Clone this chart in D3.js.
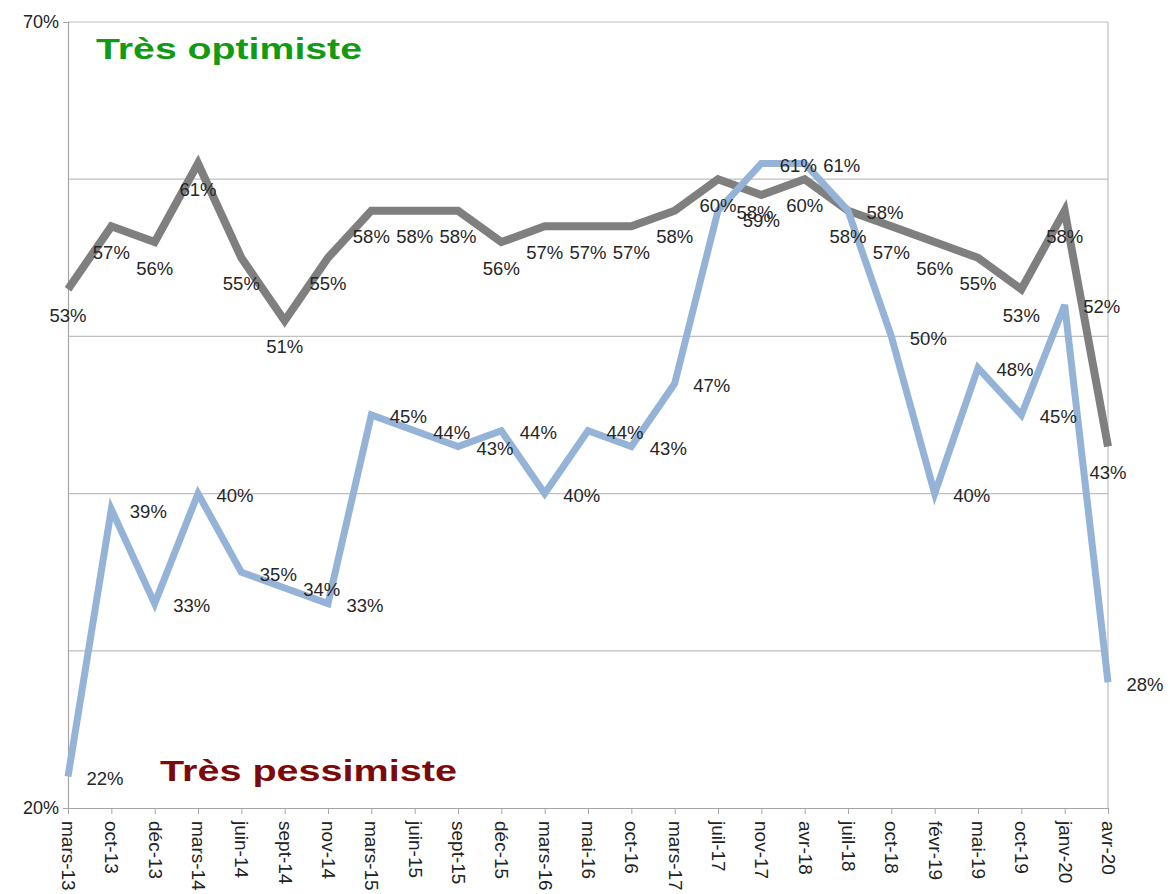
<!DOCTYPE html>
<html><head><meta charset="utf-8">
<script src="https://cdn.jsdelivr.net/npm/d3@7"></script>
<style>body{margin:0;background:#fff;} text{font-family:"Liberation Sans",Arial,sans-serif;}</style>
</head><body>
<svg id="c" width="1170" height="894"></svg>
<script>
const categories = ["mars-13","oct-13","déc-13","mars-14","juin-14","sept-14","nov-14","mars-15","juin-15","sept-15","déc-15","mars-16","mai-16","oct-16","mars-17","juil-17","nov-17","avr-18","juil-18","oct-18","févr-19","mai-19","oct-19","janv-20","avr-20"];
const optimiste = [53,57,56,61,55,51,55,58,58,58,56,57,57,57,58,60,59,60,58,57,56,55,53,58,43];
const pessimiste = [22,39,33,40,35,34,33,45,44,43,44,40,44,43,47,58,61,61,58,50,40,48,45,52,28];
const yTickLabels = [20,70];
const gridValues = [30,40,50,60];

const svg = d3.select("#c");
const pL = 68, pR = 1108, pT = 22, pB = 808;
const x = d3.scalePoint().domain(categories).range([pL, pR]);
const y = d3.scaleLinear().domain([20,70]).range([pB, pT]);

svg.append("g").selectAll("line").data(gridValues).join("line")
  .attr("x1", pL).attr("x2", pR).attr("y1", d=>y(d)).attr("y2", d=>y(d))
  .attr("stroke","#bfbfbf").attr("stroke-width",1.2);
svg.append("line").attr("x1",pL).attr("x2",pR).attr("y1",y(70)).attr("y2",y(70)).attr("stroke","#bfbfbf").attr("stroke-width",1.2);
svg.append("line").attr("x1",pR).attr("x2",pR).attr("y1",y(70)).attr("y2",y(20)).attr("stroke","#bfbfbf").attr("stroke-width",1.2);

const yAxis = d3.axisLeft(y).tickValues(yTickLabels).tickFormat(d=>d+"%").tickSize(5).tickPadding(4);
const gy = svg.append("g").attr("transform",`translate(${pL},0)`).call(yAxis);
gy.select(".domain").attr("stroke","#a6a6a6").attr("stroke-width",1.2);
gy.selectAll(".tick line").attr("stroke","#a6a6a6");
gy.selectAll("text").attr("font-size",18).attr("fill","#222").style("font-family","Liberation Sans, Arial, sans-serif");

const xAxis = d3.axisBottom(x).tickSize(6).tickSizeOuter(0).tickPadding(4);
const gx = svg.append("g").attr("transform",`translate(0,${pB})`).call(xAxis);
gx.select(".domain").attr("stroke","#a6a6a6").attr("stroke-width",1.2);
gx.selectAll(".tick line").attr("stroke","#a6a6a6");
gx.selectAll("text").attr("font-size",19).attr("fill","#222")
  .style("font-family","Liberation Sans, Arial, sans-serif")
  .attr("transform","rotate(90)").attr("text-anchor","start")
  .attr("x",13).attr("y",0).attr("dy","0.35em");

const line = d3.line().x((d,i)=>x(categories[i])).y(d=>y(d));
svg.append("path").datum(optimiste).attr("d",line).attr("fill","none")
  .attr("stroke","#7f7f7f").attr("stroke-width",8).attr("stroke-linejoin","miter").attr("stroke-miterlimit",4);
svg.append("path").datum(pessimiste).attr("d",line).attr("fill","none")
  .attr("stroke","#95b3d7").attr("stroke-width",7).attr("stroke-linejoin","miter").attr("stroke-miterlimit",4);

svg.append("g").selectAll("text").data(optimiste).join("text")
  .attr("x",(d,i)=>x(categories[i])).attr("y",d=>y(d)+26).attr("dy","0.35em")
  .attr("text-anchor","middle").attr("font-size",18.5).attr("fill","#262626").text(d=>d+"%");
svg.append("g").selectAll("text").data(pessimiste).join("text")
  .attr("x",(d,i)=>x(categories[i])+37).attr("y",d=>y(d)+2).attr("dy","0.35em")
  .attr("text-anchor","middle").attr("font-size",18.5).attr("fill","#262626").text(d=>d+"%");

svg.append("text").attr("x",96).attr("y",59).attr("font-size",30).attr("font-weight","bold")
  .attr("textLength",266).attr("lengthAdjust","spacingAndGlyphs")
  .attr("fill","#139a13").text("Très optimiste");
svg.append("text").attr("x",160).attr("y",781).attr("font-size",30).attr("font-weight","bold")
  .attr("textLength",297).attr("lengthAdjust","spacingAndGlyphs")
  .attr("fill","#7d0a0a").text("Très pessimiste");
</script>
</body></html>
